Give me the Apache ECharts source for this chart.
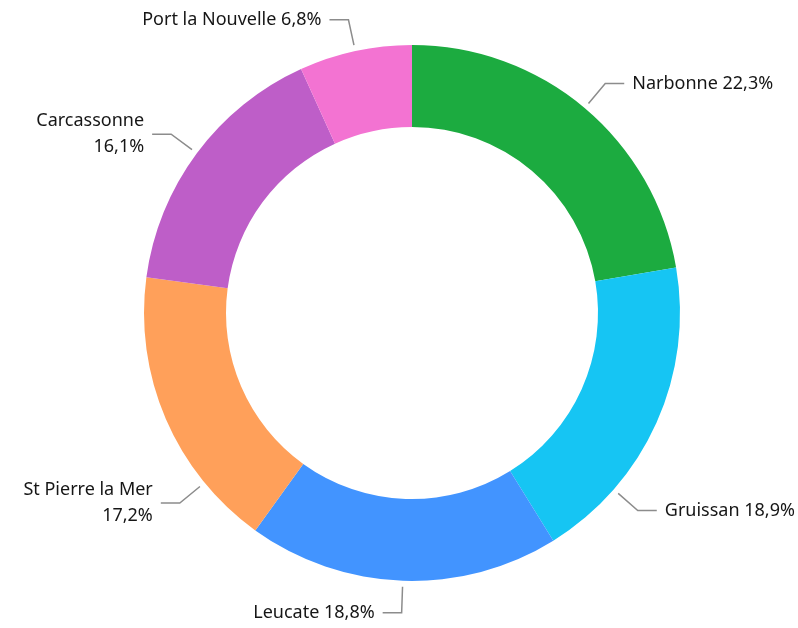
<!DOCTYPE html>
<html>
<head>
<meta charset="utf-8">
<script src="https://cdn.jsdelivr.net/npm/echarts@6/dist/echarts.min.js"></script>
<style>
  html, body { margin: 0; padding: 0; background: #fff; }
  #chart { width: 798px; height: 628px; }
</style>
</head>
<body>
<div id="chart"></div>
<script>
// data
var towns = ['Narbonne', 'Gruissan', 'Leucate', 'St Pierre la Mer', 'Carcassonne', 'Port la Nouvelle'];
var shares = [22.3, 18.9, 18.8, 17.2, 16.1, 6.8];
var colors = ['#1cab40', '#16c5f3', '#4294ff', '#ffa05a', '#be5ec8', '#f373d2'];
// labels that wrap on two lines in the original
var twoLine = ['St Pierre la Mer', 'Carcassonne'];

// pie geometry
var cx = 412, cy = 313, rIn = 186, rOut = 268;
var lineGap = 6, len1 = 32, len2 = 19, textGap = 8;
// the original pushes two labels away from their slice middle (degrees)
var labelShift = {1: 17, 3: -16};

function pct(v) {
    return v.toFixed(1).replace('.', ',') + '%';
}

var total = shares.reduce(function (s, v) { return s + v; }, 0);
var midAngle = [];
var acc = 0;
shares.forEach(function (v) {
    midAngle.push((acc + v / 2) / total * 360);
    acc += v;
});

function polar(deg, r) {
    var a = deg * Math.PI / 180;
    return [cx + r * Math.sin(a), cy - r * Math.cos(a)];
}

var chart = echarts.init(document.getElementById('chart'));

var option = {
    color: colors,
    animation: false,
    textStyle: {fontFamily: 'Noto Sans, Open Sans, sans-serif'},
    series: [
        {
            type: 'pie',
            center: [cx, cy],
            radius: [rIn, rOut],
            startAngle: 90,
            clockwise: true,
            avoidLabelOverlap: false,
            itemStyle: {borderWidth: 0},
            label: {
                show: true,
                position: 'outside',
                color: '#161616',
                fontSize: 18,
                lineHeight: 26,
                overflow: 'none',
                formatter: function (p) {
                    var sep = twoLine.indexOf(p.name) >= 0 ? '\n' : ' ';
                    return p.name + sep + pct(p.value);
                }
            },
            labelLine: {
                show: true,
                length: len1,
                length2: len2,
                lineStyle: {color: '#8c8c8c', width: 1.5}
            },
            labelLayout: function (params) {
                var i = params.dataIndex;
                var ang = midAngle[i] + (labelShift[i] || 0);
                var p0 = polar(ang, rOut + lineGap);
                var p1 = polar(ang, rOut + len1);
                var right = Math.sin(ang * Math.PI / 180) >= 0;
                var p2 = [p1[0] + (right ? len2 : -len2), p1[1]];
                return {
                    x: p2[0] + (right ? textGap : -textGap),
                    y: p2[1],
                    align: right ? 'left' : 'right',
                    verticalAlign: 'middle',
                    labelLinePoints: [p0, p1, p2]
                };
            },
            emphasis: {disabled: true},
            data: towns.map(function (t, i) {
                return {name: t, value: shares[i]};
            })
        }
    ]
};

chart.setOption(option);
</script>
</body>
</html>
